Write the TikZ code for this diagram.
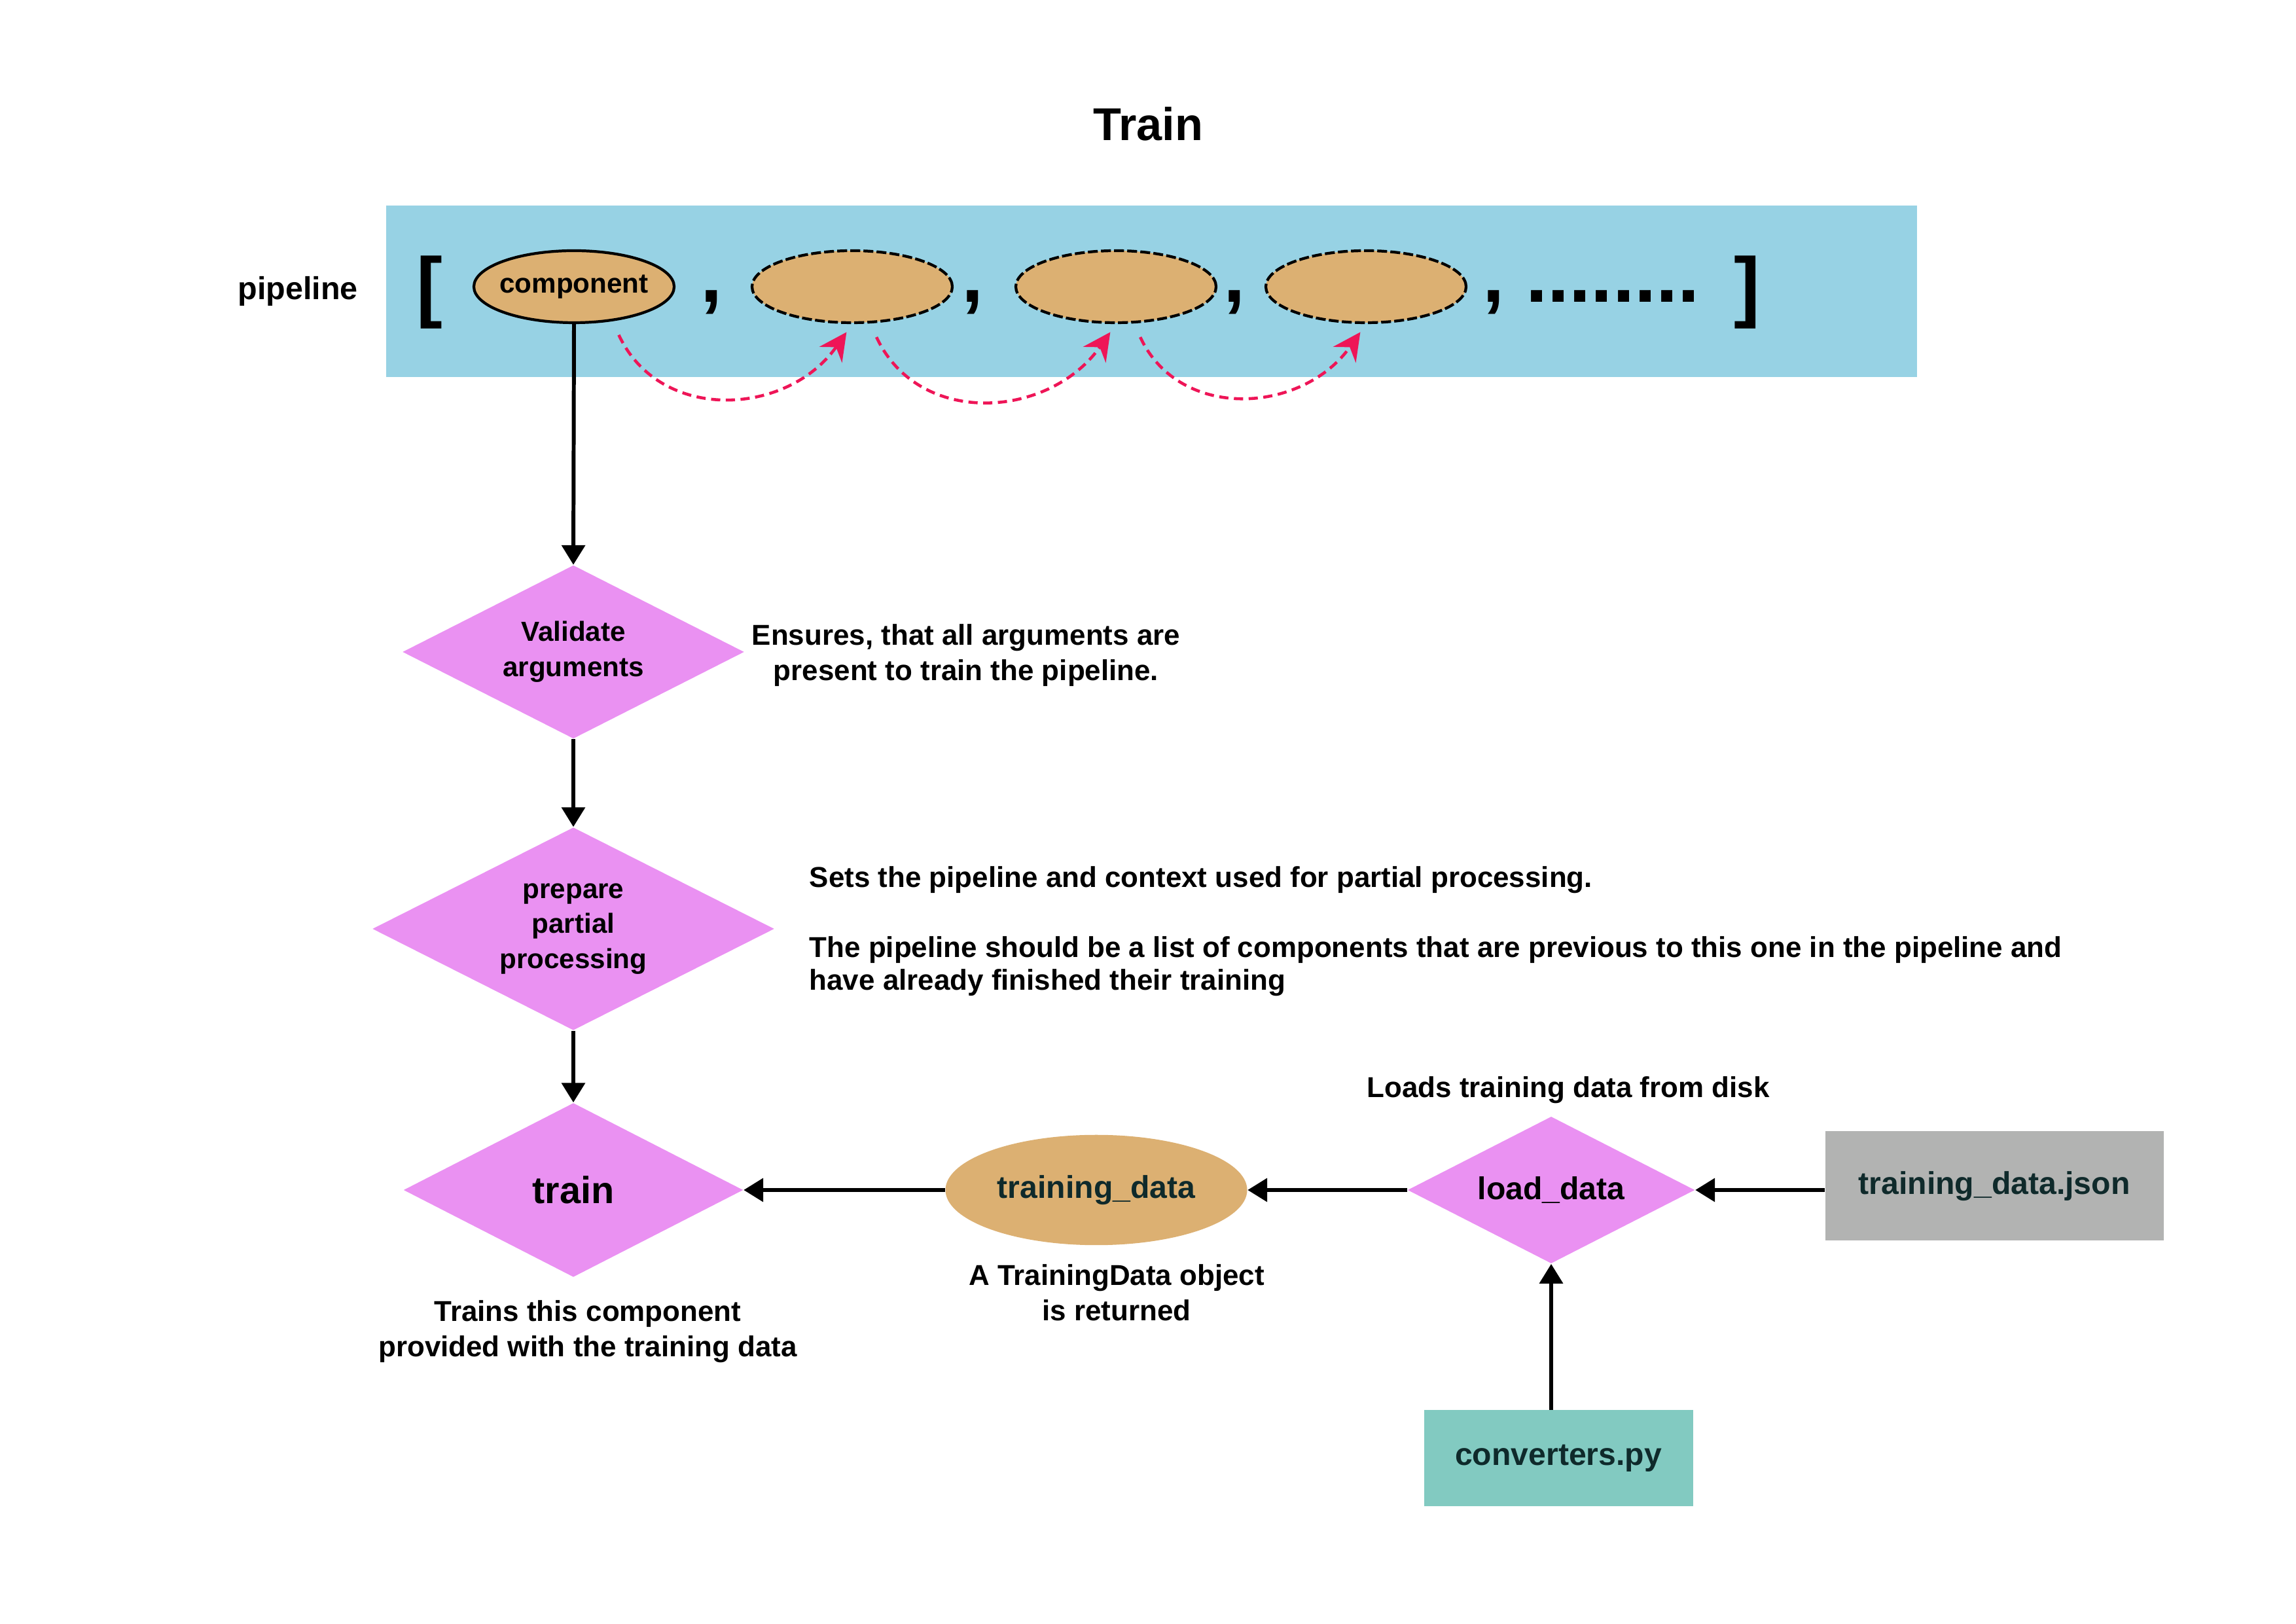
\documentclass[tikz,border=0pt]{standalone}
\usepackage{fontspec}
\setmainfont{Liberation Sans}
\usepackage[svgnames]{xcolor}
\usepackage{tikz}
\usetikzlibrary{shapes.geometric}
\usetikzlibrary{arrows.meta}
\usetikzlibrary{calc}
\definecolor{bandblue}{HTML}{97D2E4}
\definecolor{compfill}{HTML}{DCB072}
\definecolor{stepfill}{HTML}{EA91F2}
\definecolor{jsonfill}{HTML}{B2B3B2}
\definecolor{convfill}{HTML}{82CAC1}
\definecolor{passred}{HTML}{EE1557}
\definecolor{filetext}{HTML}{0F2A2B}
\tikzset{flow/.style={-{Triangle[length=8.5pt,width=10pt]},line width=1.7pt},
  pass/.style={-{Stealth[length=12pt,width=12pt,inset=4pt]},draw=passred,fill=none,line width=1.3pt,
    dash pattern=on 4pt off 2.4pt}
}

\begin{document}
\begin{tikzpicture}
		\tikzstyle{Comp}=[ellipse,draw=Black,fill=compfill,line width=1.2pt,minimum width=3.06cm,minimum height=1.1cm,inner sep=0pt]
		\tikzstyle{Slot}=[Comp,dash pattern=on 4.3pt off 1.4pt]
		\tikzstyle{Step}=[diamond,fill=stepfill,inner sep=0pt]
		\tikzstyle{File}=[rectangle,inner sep=0pt]
		\tikzstyle{Label}=[font=\bfseries\fontsize{12}{15.3}\selectfont,align=center,inner sep=0pt]
		\tikzstyle{FileLabel}=[font=\bfseries\fontsize{13.7}{16}\selectfont,inner sep=0pt]
		\tikzstyle{Note}=[font=\bfseries\fontsize{12.5}{15.3}\selectfont,inner sep=0pt]
		\tikzstyle{Big}=[font=\bfseries\fontsize{34}{40}\selectfont,inner sep=0pt]

		\def\row {20.42}
		\def\base {20.18}
		\def\col {8.76}
		\def\low {6.62}

		\useasboundingbox (0,0) rectangle (35.08,24.80);

		\node [font=\bfseries\fontsize{20}{24}\selectfont] (title) at (17.54,22.91) {Train};

		% the pipeline list
		\node [fill=bandblue,minimum width=23.39cm,minimum height=2.62cm,inner sep=0pt] (band) at (17.595,20.35) {};
		\node [font=\bfseries\fontsize{13.8}{16}\selectfont] (plabel) at (4.55,20.35) {pipeline};
		\node [Big] (lbr) at (6.565,20.335) {[};
		\node [Big] (rbr) at (26.69,20.335) {]};

		\foreach \name/\x/\sty in {c1/8.77/Comp, c2/13.02/Slot, c3/17.05/Slot, c4/20.87/Slot}
		{
			\node [\sty] (\name) at (\x,\row) {};
		}
		\node [Label] (c1lbl) at (c1.center) {component};

		\foreach \x [count=\k] in {10.87,14.86,18.86,22.82}
		{
			\node [Big,anchor=base] (comma\k) at (\x,\base) {,};
		}
		\node [Big,anchor=base] (dots) at (24.64,\base) {........};

		\foreach \a/\b/\ang in {c1/c2/-42, c2/c3/-64, c3/c4/-64}
		{
			\draw [pass,shorten <=0.23cm,shorten >=0.15cm] (\a.\ang) to[out=-65,in=-125,looseness=1.2] (\b.south);
		}

		% steps of train
		\node [Step,minimum width=5.22cm,minimum height=2.65cm] (val) at (\col,14.84) {};
		\node [Label] (vallbl) at (val.center) {Validate\\arguments};
		\node [Step,minimum width=6.14cm,minimum height=3.10cm] (prep) at (\col,10.61) {};
		\node [Label] (preplbl) at (prep.center) {prepare\\partial\\processing};
		\node [Step,minimum width=5.19cm,minimum height=2.66cm] (train) at (\col,\low) {};
		\node [font=\bfseries\fontsize{16.4}{20}\selectfont,inner sep=0pt] (trainlbl) at (train.center) {train};

		\node [ellipse,fill=compfill,minimum width=4.61cm,minimum height=1.685cm,inner sep=0pt] (td) at (16.75,\low) {};
		\node [FileLabel,text=filetext] (tdlbl) at (td.center) {training\_data};
		\node [Step,minimum width=4.39cm,minimum height=2.245cm] (ld) at (23.70,\low) {};
		\node [FileLabel] (ldlbl) at (ld.center) {load\_data};
		\node [File,fill=jsonfill,minimum width=5.17cm,minimum height=1.67cm] (json) at (30.47,6.68) {};
		\node [FileLabel,text=filetext] (jsonlbl) at (json.center) {training\_data.json};
		\node [File,fill=convfill,minimum width=4.11cm,minimum height=1.47cm] (conv) at (23.81,2.52) {};
		\node [FileLabel,text=filetext] (convlbl) at (conv.center) {converters.py};

		\draw [flow] (c1.south) -- (val.north);
		\draw [flow] (val.south) -- (prep.north);
		\draw [flow] (prep.south) -- (train.north);
		\draw [flow] (td.west) -- (train.east);
		\draw [flow] (ld.west) -- (td.east);
		\draw [flow] (json.west |- ld.east) -- (ld.east);
		\draw [flow] (conv.north -| ld.south) -- (ld.south);

		% notes
		\node [Note,align=center,anchor=north] (valnote) at (14.76,15.27) {Ensures, that all arguments are\\present to train the pipeline.};
		\node [Note,align=left,anchor=north west,font=\bfseries\fontsize{12.5}{14.4}\selectfont] (prepnote) at (12.36,11.57)
			{Sets the pipeline and context used for partial processing.\\[16pt]The pipeline should be a list of components that are previous to this one in the pipeline and\\have already finished their training};
		\node [Note,anchor=base] (ldnote) at (23.96,8.03) {Loads training data from disk};
		\node [Note,align=center,anchor=north] (tdnote) at (17.06,5.49) {A TrainingData object\\is returned};
		\node [Note,align=center,anchor=north] (trainnote) at (8.98,4.94) {Trains this component\\provided with the training data};

\end{tikzpicture}
\end{document}
